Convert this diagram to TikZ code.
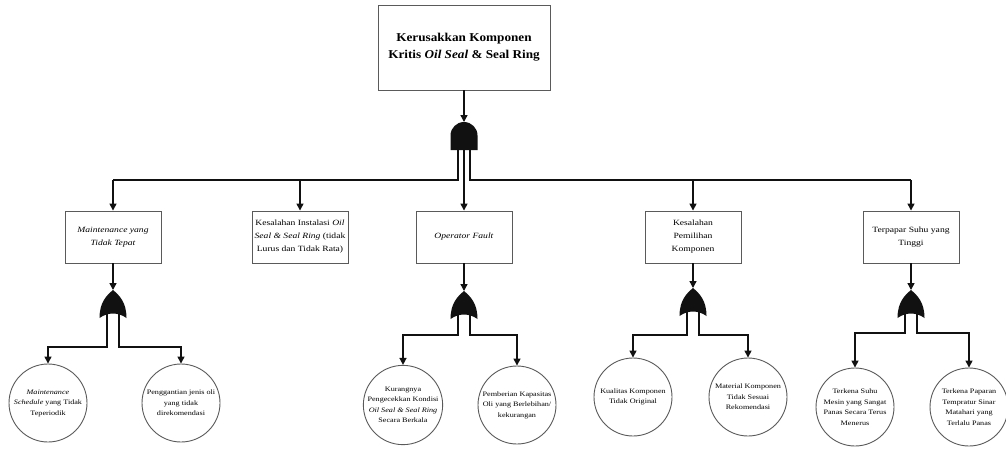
\documentclass[tikz,border=0pt]{standalone}
\usepackage{fontspec}
\setmainfont{Liberation Serif}
\newfontfamily\boxfont[FakeStretch=1.2]{Liberation Serif}
\newfontfamily\topfont[FakeStretch=1.1]{Liberation Serif}
\usetikzlibrary{arrows.meta}
\definecolor{edgegray}{HTML}{5A5A5A}
\definecolor{ink}{HTML}{111111}
\newcommand\myorgate[2]{%
  \fill[ink] (#1-13.5,#2+28) .. controls (#1-13.5,#2+12) and (#1-6,#2+5) .. (#1,#2)
    .. controls (#1+6,#2+5) and (#1+13.5,#2+12) .. (#1+13.5,#2+28)
    .. controls (#1+5,#2+22) and (#1-5,#2+22) .. cycle;}
\newcommand\myandgate[2]{%
  \fill[ink] (#1-13.5,#2+28) -- (#1-13.5,#2+13.5)
    arc[start angle=180,end angle=360,radius=13.5] -- (#1+13.5,#2+28) -- cycle;}
\tikzset{
  topbox/.style={draw=edgegray, line width=0.9pt, fill=white, minimum width=172pt, minimum height=85pt,
    align=center, inner sep=2pt, font=\topfont\fontsize{12}{17}\selectfont\bfseries},
  midbox/.style={draw=edgegray, line width=0.9pt, fill=white, minimum width=96pt, minimum height=52pt,
    align=center, inner sep=2pt, font=\boxfont\fontsize{8}{13}\selectfont},
  ev/.style={circle, draw=edgegray, line width=0.9pt, fill=white, minimum size=78pt,
    align=center, inner sep=0pt, font=\boxfont\fontsize{6.8}{10.5}\selectfont},
  conn/.style={draw=ink, line width=1.4pt, -{Triangle[width=7pt,length=7pt]}},
  wire/.style={draw=ink, line width=1.4pt},
}
\begin{document}
\begin{tikzpicture}[x=1pt,y=-1pt]
\useasboundingbox (0,0) rectangle (1006,448);
% top event
\node[topbox] (top) at (464,47.5) {Kerusakkan Komponen\\Kritis \textit{Oil Seal} \& Seal Ring};
% top AND gate
\coordinate (g0) at (464,122);
\coordinate (g0l) at (458,148);
\coordinate (g0m) at (464,148);
\coordinate (g0r) at (470,148);
\coordinate (lvl0) at (0,180);
% second level boxes
\node[midbox] (b1) at (113,237) {\textit{Maintenance yang}\\\textit{Tidak Tepat}};
\node[midbox] (b2) at (300,237) {Kesalahan Instalasi \textit{Oil}\\\textit{Seal \& Seal Ring} (tidak\\Lurus dan Tidak Rata)};
\node[midbox] (b3) at (464,237) {\textit{Operator Fault}};
\node[midbox] (b4) at (693,237) {Kesalahan\\Pemilihan\\Komponen};
\node[midbox] (b5) at (911,237) {Terpapar Suhu yang\\Tinggi};
% connectors from top
\draw[conn] (top.south) -- (g0);
\draw[wire] (g0l) -- (g0l |- lvl0) -- (b1.north |- lvl0);
\draw[conn] (b1.north |- lvl0) -- (b1.north);
\draw[conn] (b2.north |- lvl0) -- (b2.north);
\draw[conn] (g0m) -- (b3.north);
\draw[wire] (g0r) -- (g0r |- lvl0) -- (b5.north |- lvl0);
\draw[conn] (b4.north |- lvl0) -- (b4.north);
\draw[conn] (b5.north |- lvl0) -- (b5.north);
\myandgate{464}{122}
% basic events
\node[ev] (c1) at (48,403) {\textit{Maintenance}\\\textit{Schedule} yang Tidak\\Teperiodik};
\node[ev] (c2) at (181,403) {Penggantian jenis oli\\yang tidak\\direkomendasi};
\node[ev] (c3) at (403,405) {Kurangnya\\Pengecekkan Kondisi\\\textit{Oil Seal \& Seal Ring}\\Secara Berkala};
\node[ev] (c4) at (517,405) {Pemberian Kapasitas\\Oli yang Berlebihan/\\kekurangan};
\node[ev] (c5) at (633,397) {Kualitas Komponen\\Tidak Original};
\node[ev] (c6) at (748,397) {Material Komponen\\Tidak Sesuai\\Rekomendasi};
\node[ev] (c7) at (855,407) {Terkena Suhu\\Mesin yang Sangat\\Panas Secara Terus\\Menerus};
\node[ev] (c8) at (969,407) {Terkena Paparan\\Tempratur Sinar\\Matahari yang\\Terlalu Panas};
% group 1
\coordinate (g1) at (113,290); \coordinate (g1a) at (107,312); \coordinate (g1b) at (119,312); \coordinate (h1) at (0,347);
\draw[conn] (b1.south) -- (g1);
\draw[conn] (g1a) -- (g1a |- h1) -| (c1.north);
\draw[conn] (g1b) -- (g1b |- h1) -| (c2.north);
\myorgate{113}{290}
% group 3
\coordinate (g3) at (464,291); \coordinate (g3a) at (458,313); \coordinate (g3b) at (470,313); \coordinate (h3) at (0,335);
\draw[conn] (b3.south) -- (g3);
\draw[conn] (g3a) -- (g3a |- h3) -| (c3.north);
\draw[conn] (g3b) -- (g3b |- h3) -| (c4.north);
\myorgate{464}{291}
% group 4
\coordinate (g4) at (693,288); \coordinate (g4a) at (687,310); \coordinate (g4b) at (699,310); \coordinate (h4) at (0,335);
\draw[conn] (b4.south) -- (g4);
\draw[conn] (g4a) -- (g4a |- h4) -| (c5.north);
\draw[conn] (g4b) -- (g4b |- h4) -| (c6.north);
\myorgate{693}{288}
% group 5
\coordinate (g5) at (911,290); \coordinate (g5a) at (905,312); \coordinate (g5b) at (917,312); \coordinate (h5) at (0,333);
\draw[conn] (b5.south) -- (g5);
\draw[conn] (g5a) -- (g5a |- h5) -| (c7.north);
\draw[conn] (g5b) -- (g5b |- h5) -| (c8.north);
\myorgate{911}{290}
\end{tikzpicture}
\end{document}
